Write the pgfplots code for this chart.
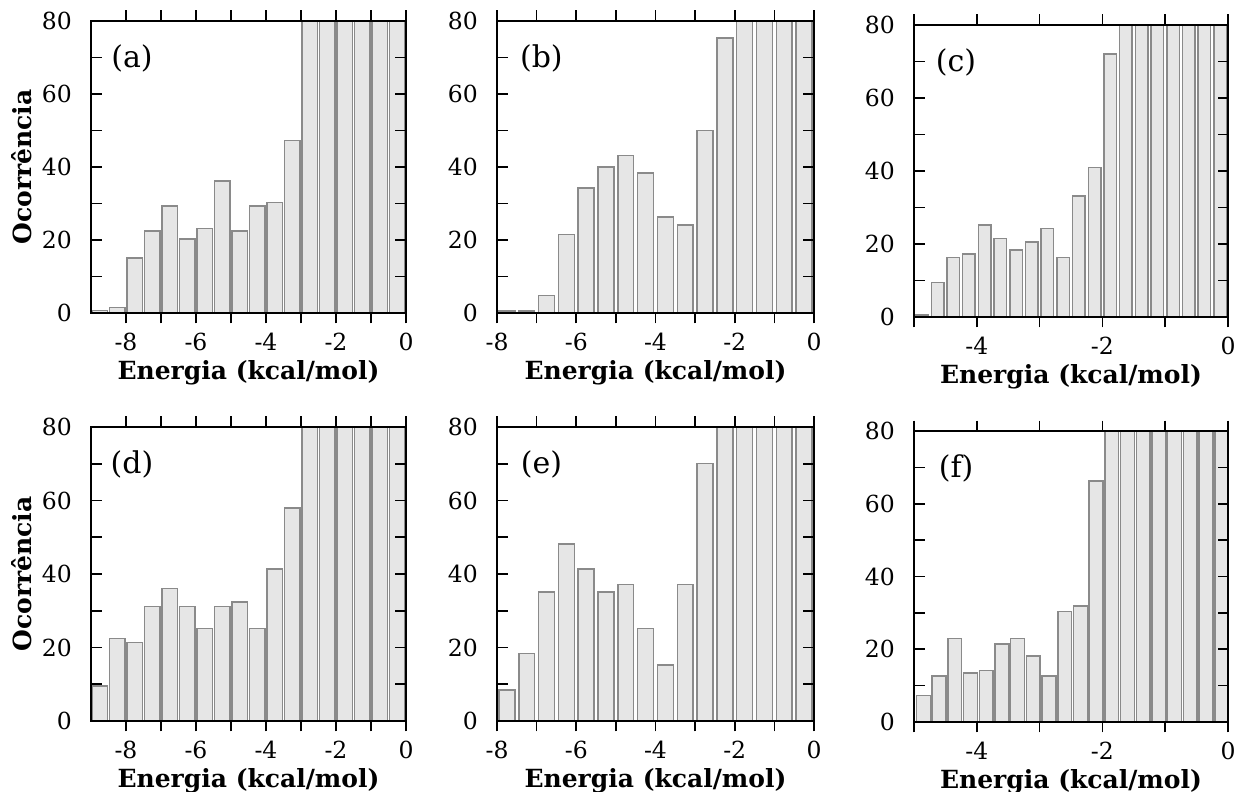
\documentclass[border=0pt]{standalone}
\usepackage{fontspec}
\setmainfont{DejaVu Serif}
\usepackage{pgfplots}
\pgfplotsset{compat=1.18}
\definecolor{barfill}{HTML}{E6E6E6}
\definecolor{baredge}{HTML}{8A8A8A}
\tikzset{panel/.style={font=\fontsize{30}{34}\selectfont}}
\pgfplotsset{
  hist/.style={
    scale only axis, anchor=south west,
    axis on top,
    axis line style={line width=1.6pt},
    every tick/.style={black,line width=1.6pt},
    major tick length=10.5pt, minor tick length=10.5pt,
    ymin=0, ymax=80, ytick={0,20,...,80}, minor ytick={10,30,50,70},
    xmax=0,
    /pgf/number format/assume math mode=true,
    ticklabel style={font=\fontsize{23.5}{28}\selectfont, inner sep=0pt},
    xticklabel style={anchor=base, yshift=-27.5pt},
    yticklabel style={anchor=east, xshift=-19pt},
    every axis x label/.style={at={(axis description cs:0.5,-0.205)}, anchor=center, font=\fontsize{25}{30}\selectfont\bfseries},
    every axis y label/.style={at={(axis description cs:-0.219,0.5)}, rotate=90, anchor=center, font=\fontsize{25}{30}\selectfont\bfseries},
    xlabel={Energia (kcal/mol)},
    ybar, bar shift=0pt,
  },
  histplot/.style={draw=baredge, fill=barfill, line width=1.5pt},
}
\begin{document}
\begin{tikzpicture}
\useasboundingbox (0,0) rectangle (1235pt,792pt);
% (a)
\begin{axis}[hist, at={(91pt,479pt)}, width=315pt, height=292pt,
  xmin=-9, xtick={-8,-6,-4,-2,0}, minor xtick={-7,-5,-3,-1},
  bar width=0.43, ylabel={Ocorrência}]
\addplot[histplot] coordinates {
(-8.75,0.7) (-8.25,1.5) (-7.75,15) (-7.25,22.5) (-6.75,29.3) (-6.25,20.3)
(-5.75,23.1) (-5.25,36.2) (-4.75,22.5) (-4.25,29.3) (-3.75,30.3) (-3.25,47.2)
(-2.75,100) (-2.25,100) (-1.75,100) (-1.25,100) (-0.75,100) (-0.25,100)};
\node[panel] at (rel axis cs:0.13,0.873) {(a)};
\end{axis}
% (b)
\begin{axis}[hist, at={(497pt,479pt)}, width=317pt, height=292pt,
  xmin=-8, xtick={-8,-6,-4,-2,0}, minor xtick={-7,-5,-3,-1},
  bar width=0.4]
\addplot[histplot] coordinates {
(-7.75,0.5) (-7.25,0.5) (-6.75,4.8) (-6.25,21.5) (-5.75,34.2) (-5.25,40)
(-4.75,43.1) (-4.25,38.4) (-3.75,26.3) (-3.25,24.1) (-2.75,50) (-2.25,75.3)
(-1.75,100) (-1.25,100) (-0.75,100) (-0.25,100)};
\node[panel] at (rel axis cs:0.14,0.873) {(b)};
\end{axis}
% (c)
\begin{axis}[hist, at={(914pt,475pt)}, width=314pt, height=292pt,
  xmin=-5, xtick={-4,-2,0}, minor xtick={-5,-3,-1},
  bar width=0.2]
\addplot[histplot] coordinates {
(-4.875,0.5) (-4.625,9.5) (-4.375,16.3) (-4.125,17.3) (-3.875,25.2) (-3.625,21.5)
(-3.375,18.4) (-3.125,20.5) (-2.875,24.2) (-2.625,16.3) (-2.375,33.1) (-2.125,41)
(-1.875,72.1) (-1.625,100) (-1.375,100) (-1.125,100) (-0.875,100) (-0.625,100)
(-0.375,100) (-0.125,100)};
\node[panel] at (rel axis cs:0.134,0.873) {(c)};
\end{axis}
% (d)
\begin{axis}[hist, at={(91pt,71pt)}, width=315pt, height=294pt,
  xmin=-9, xtick={-8,-6,-4,-2,0}, minor xtick={-7,-5,-3,-1},
  bar width=0.43, ylabel={Ocorrência}]
\addplot[histplot] coordinates {
(-8.75,9.5) (-8.25,22.5) (-7.75,21.4) (-7.25,31.2) (-6.75,36) (-6.25,31.2)
(-5.75,25.2) (-5.25,31.2) (-4.75,32.4) (-4.25,25.2) (-3.75,41.3) (-3.25,58)
(-2.75,100) (-2.25,100) (-1.75,100) (-1.25,100) (-0.75,100) (-0.25,100)};
\node[panel] at (rel axis cs:0.13,0.873) {(d)};
\end{axis}
% (e)
\begin{axis}[hist, at={(497pt,71pt)}, width=317pt, height=294pt,
  xmin=-8, xtick={-8,-6,-4,-2,0}, minor xtick={-7,-5,-3,-1},
  bar width=0.4]
\addplot[histplot] coordinates {
(-7.75,8.4) (-7.25,18.4) (-6.75,35.1) (-6.25,48.1) (-5.75,41.3) (-5.25,35.1)
(-4.75,37.2) (-4.25,25.2) (-3.75,15.2) (-3.25,37.2) (-2.75,70) (-2.25,100)
(-1.75,100) (-1.25,100) (-0.75,100) (-0.25,100)};
\node[panel] at (rel axis cs:0.14,0.873) {(e)};
\end{axis}
% (f)
\begin{axis}[hist, at={(914pt,70pt)}, width=314pt, height=291pt,
  xmin=-5, xtick={-4,-2,0}, minor xtick={-5,-3,-1},
  bar width=0.22]
\addplot[histplot] coordinates {
(-4.85,7.3) (-4.6,12.6) (-4.35,23) (-4.1,13.5) (-3.85,14.1) (-3.6,21.4)
(-3.35,23) (-3.1,18.2) (-2.85,12.6) (-2.6,30.4) (-2.35,31.9) (-2.1,66.2)
(-1.85,100) (-1.6,100) (-1.35,100) (-1.1,100) (-0.85,100) (-0.6,100)
(-0.35,100) (-0.1,100)};
\node[panel] at (rel axis cs:0.134,0.873) {(f)};
\end{axis}
\end{tikzpicture}
\end{document}
